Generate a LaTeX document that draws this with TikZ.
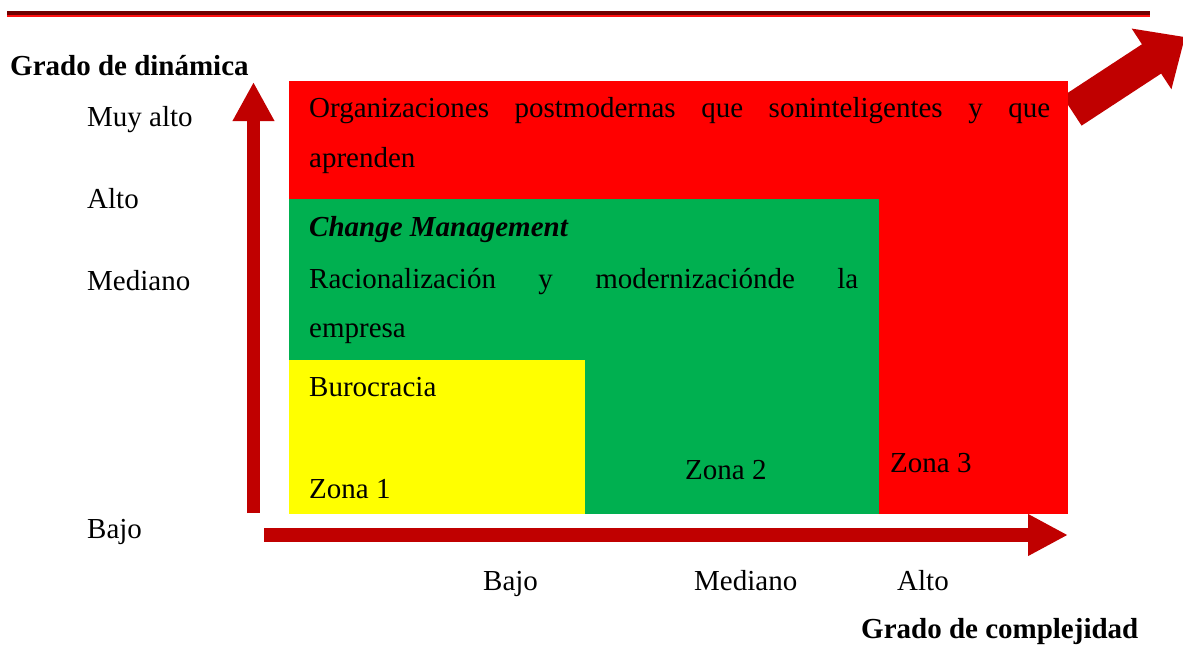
\documentclass[tikz,border=0pt]{standalone}
\usepackage{fontspec}
\setmainfont{Liberation Serif}
\usetikzlibrary{arrows.meta}
\definecolor{zred}{RGB}{255,0,0}
\definecolor{zgreen}{RGB}{0,176,80}
\definecolor{zyellow}{RGB}{255,255,0}
\definecolor{arrowred}{RGB}{192,0,0}
\definecolor{darkline}{RGB}{112,0,0}
\definecolor{lightline}{RGB}{255,16,16}

\begin{document}
\begin{tikzpicture}[x=1pt,y=-1pt,
    lbl/.style={anchor=base west, inner sep=0pt, font=\fontsize{29}{35}\selectfont},
    axis/.style={arrowred, line width=13.5pt, -{Triangle[length=39pt,width=39pt]}}]
    \useasboundingbox (0,0) rectangle (1183,649);
    % top rule
    \fill[darkline] (7,11) rectangle (1150,14.5);
    \fill[lightline] (7,14.5) rectangle (1150,17);
    % diagonal arrow, its tail sits behind the red zone
    \coordinate (dtail) at (1072,111);
    \coordinate (dtip) at (1185,37);
    \draw[arrowred, line width=35pt, -{Triangle[length=40pt,width=70pt]}] (dtail) -- (dtip);
    % zones
    \fill[zred] (289,81) rectangle (1068,514);
    \fill[zgreen] (289,199) rectangle (879,514);
    \fill[zyellow] (289,360) rectangle (585,514);
    % axes
    \coordinate (yorig) at (253.5,513);
    \coordinate (ytop) at (253.5,82);
    \coordinate (xorig) at (264,535);
    \coordinate (xend) at (1068,535);
    \draw[axis] (yorig) -- (ytop);
    \draw[axis, line width=14pt, -{Triangle[length=40pt,width=39pt]}] (xorig) -- (xend);
    % axis labels
    \node[lbl] (ydyn) at (10,75) {\bfseries Grado de dinámica};
    \node[lbl] (ymuy) at (87,126) {Muy alto};
    \node[lbl] (yalto) at (87,208) {Alto};
    \node[lbl] (ymed) at (87,290) {Mediano};
    \node[lbl] (ybajo) at (87,538) {Bajo};
    \node[lbl] (xbajo) at (483,590) {Bajo};
    \node[lbl] (xmed) at (694,590) {Mediano};
    \node[lbl] (xalto) at (897,590) {Alto};
    \node[lbl] (xcomp) at (861,638) {\bfseries Grado de complejidad};
    % zone texts
    \node[lbl] (org1) at (309,117) {\makebox[741pt][s]{Organizaciones postmodernas que soninteligentes y que}};
    \node[lbl] (org2) at (309,167) {aprenden};
    \node[lbl] (chg) at (309,236) {\bfseries\itshape Change Management};
    \node[lbl] (rac1) at (309,288) {\makebox[549pt][s]{Racionalización y modernizaciónde la}};
    \node[lbl] (rac2) at (309,337) {empresa};
    \node[lbl] (buro) at (309,396) {Burocracia};
    \node[lbl] (zona1) at (309,498) {Zona 1};
    \node[lbl] (zona2) at (685,479) {Zona 2};
    \node[lbl] (zona3) at (890,472) {Zona 3};
\end{tikzpicture}
\end{document}
